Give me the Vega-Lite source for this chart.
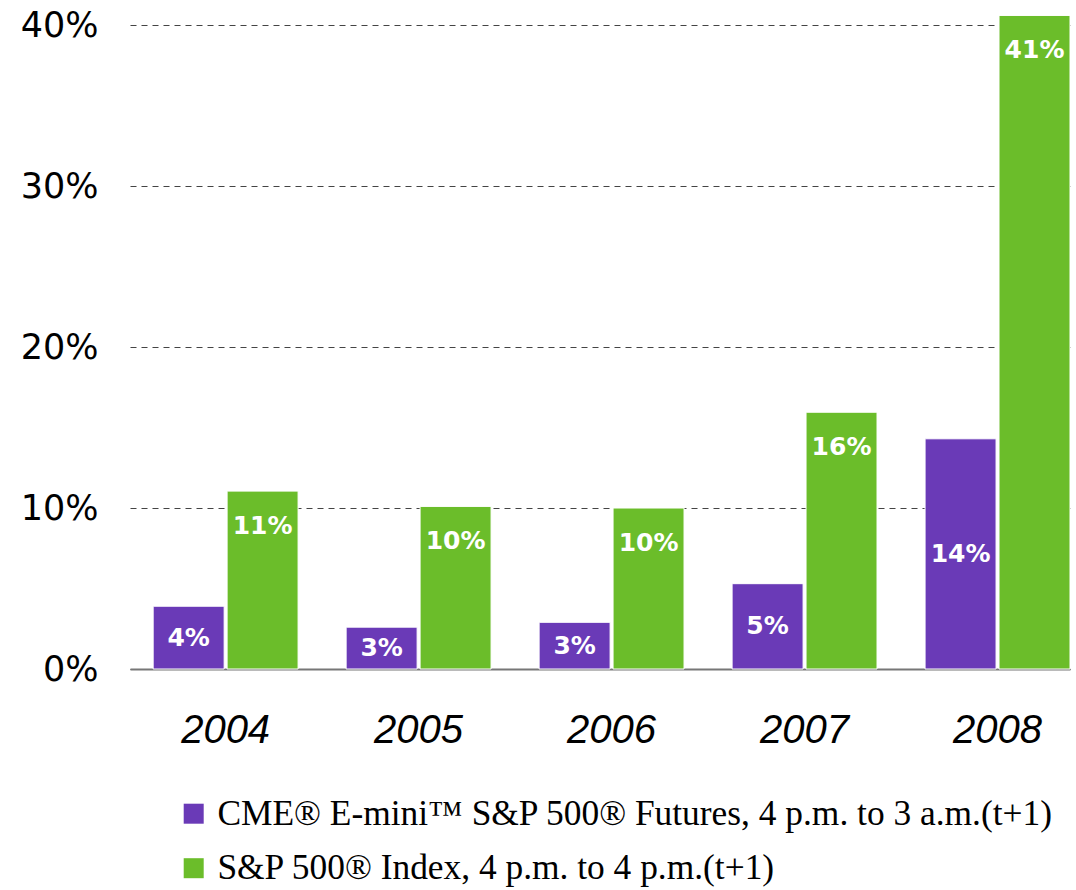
{
  "$schema": "https://vega.github.io/schema/vega-lite/v6.json",
  "width": 940,
  "height": 660,
  "autosize": {"type": "none"},
  "padding": {"left": 130, "top": 9, "right": 6, "bottom": 221},
  "background": "white",
  "config": {"view": {"stroke": null}, "font": "DejaVu Sans"},
  "data": {
    "values": [
      {"year": "2004", "series": "CME® E-mini™ S&P 500® Futures, 4 p.m. to 3 a.m.(t+1)", "value": 0.039},
      {"year": "2004", "series": "S&P 500® Index, 4 p.m. to 4 p.m.(t+1)", "value": 0.1105},
      {"year": "2005", "series": "CME® E-mini™ S&P 500® Futures, 4 p.m. to 3 a.m.(t+1)", "value": 0.026},
      {"year": "2005", "series": "S&P 500® Index, 4 p.m. to 4 p.m.(t+1)", "value": 0.101},
      {"year": "2006", "series": "CME® E-mini™ S&P 500® Futures, 4 p.m. to 3 a.m.(t+1)", "value": 0.029},
      {"year": "2006", "series": "S&P 500® Index, 4 p.m. to 4 p.m.(t+1)", "value": 0.1},
      {"year": "2007", "series": "CME® E-mini™ S&P 500® Futures, 4 p.m. to 3 a.m.(t+1)", "value": 0.053},
      {"year": "2007", "series": "S&P 500® Index, 4 p.m. to 4 p.m.(t+1)", "value": 0.1595},
      {"year": "2008", "series": "CME® E-mini™ S&P 500® Futures, 4 p.m. to 3 a.m.(t+1)", "value": 0.143},
      {"year": "2008", "series": "S&P 500® Index, 4 p.m. to 4 p.m.(t+1)", "value": 0.406}
    ]
  },
  "encoding": {
    "x": {
      "field": "year",
      "type": "nominal",
      "scale": {"paddingInner": 0.249, "paddingOuter": 0.06, "align": 1},
      "axis": {
        "title": null,
        "labelAngle": 0,
        "labelFont": "Liberation Sans",
        "labelFontStyle": "italic",
        "labelFontSize": 40,
        "labelColor": "black",
        "ticks": false,
        "tickSize": 0,
        "labelPadding": 73,
        "labelBaseline": "alphabetic",
        "domainColor": "#777777",
        "domainWidth": 2,
        "grid": false
      }
    },
    "xOffset": {
      "field": "series",
      "type": "nominal",
      "scale": {
        "domain": ["CME® E-mini™ S&P 500® Futures, 4 p.m. to 3 a.m.(t+1)", "S&P 500® Index, 4 p.m. to 4 p.m.(t+1)"],
        "paddingInner": 0.04,
        "paddingOuter": 0
      }
    }
  },
  "layer": [
    {
      "mark": {"type": "bar", "stroke": "white", "strokeWidth": 1},
      "encoding": {
        "y": {
          "field": "value",
          "type": "quantitative",
          "scale": {"domain": [0, 0.41], "nice": false},
          "axis": {
            "values": [0, 0.1, 0.2, 0.3, 0.4],
            "format": ".0%",
            "title": null,
            "domain": false,
            "ticks": false,
            "tickSize": 0,
            "labelFont": "DejaVu Sans",
            "labelFontSize": 35,
            "labelColor": "black",
            "labelPadding": 32,
            "gridDash": [6, 5],
            "gridColor": "#444444",
            "gridWidth": 1.2
          }
        },
        "color": {
          "field": "series",
          "type": "nominal",
          "scale": {
            "domain": ["CME® E-mini™ S&P 500® Futures, 4 p.m. to 3 a.m.(t+1)", "S&P 500® Index, 4 p.m. to 4 p.m.(t+1)"],
            "range": ["#6a3ab7", "#6bbd2a"]
          },
          "legend": {
            "orient": "none",
            "legendX": 46,
            "legendY": 787,
            "title": null,
            "padding": 0,
            "symbolType": "square",
            "symbolSize": 400,
            "symbolStrokeWidth": 0,
            "labelFont": "Liberation Serif",
            "labelFontSize": 35.4,
            "labelColor": "black",
            "labelOffset": 6,
            "labelLimit": 1000,
            "rowPadding": 17.5
          }
        }
      }
    },
    {
      "transform": [{"filter": {"field": "series", "equal": "S&P 500® Index, 4 p.m. to 4 p.m.(t+1)"}}],
      "mark": {"type": "text", "dy": 35, "baseline": "middle", "align": "center", "color": "white", "fontSize": 25, "fontWeight": "bold", "font": "DejaVu Sans"},
      "encoding": {
        "y": {"field": "value", "type": "quantitative"},
        "text": {"field": "value", "type": "quantitative", "format": ".0%"}
      }
    },
    {
      "transform": [
        {"filter": {"field": "series", "equal": "CME® E-mini™ S&P 500® Futures, 4 p.m. to 3 a.m.(t+1)"}},
        {"calculate": "datum.value / 2", "as": "mid"}
      ],
      "mark": {"type": "text", "baseline": "middle", "align": "center", "color": "white", "fontSize": 25, "fontWeight": "bold", "font": "DejaVu Sans"},
      "encoding": {
        "y": {"field": "mid", "type": "quantitative"},
        "text": {"field": "value", "type": "quantitative", "format": ".0%"}
      }
    }
  ]
}
